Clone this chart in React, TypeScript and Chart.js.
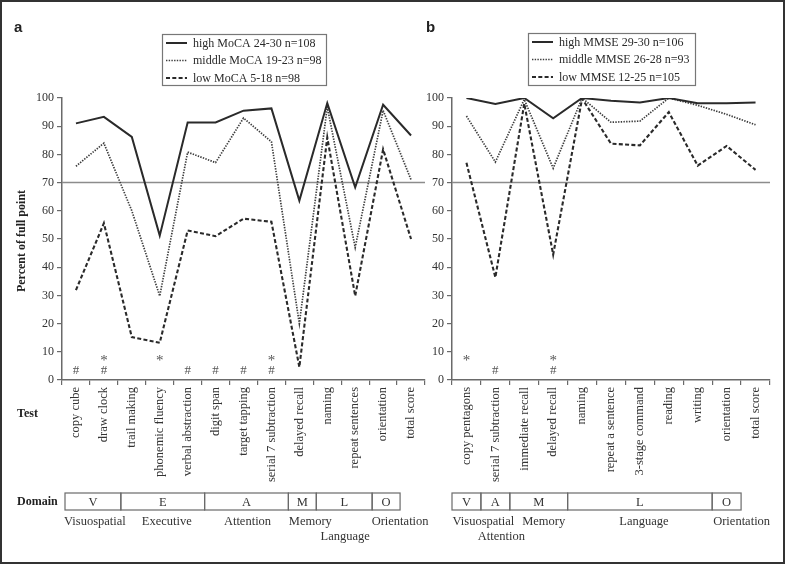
import React, { useEffect, useRef } from 'react';
import { Chart, registerables } from 'chart.js';

Chart.register(...registerables);

const SERIF = '"Liberation Serif", "Times New Roman", serif';
const SANS = '"Liberation Sans", Arial, sans-serif';

// ---------- Panel a data ----------
const TESTS_A = [
  'copy cube', 'draw clock', 'trail making', 'phonemic fluency', 'verbal abstraction',
  'digit span', 'target tapping', 'serial 7 subtraction', 'delayed recall', 'naming',
  'repeat sentences', 'orientation', 'total score',
];
const HIGH_MOCA = [91, 93.3, 86.2, 51.2, 91.3, 91.3, 95.5, 96.3, 63.6, 98.2, 68.3, 97.6, 86.7];
const MID_MOCA = [75.8, 84, 60, 29.8, 80.8, 77.1, 92.9, 84.5, 20, 96.8, 47, 95.6, 71];
const LOW_MOCA = [31.9, 55.6, 15.2, 13.2, 53, 51, 57.2, 56.1, 4.6, 86, 29.8, 81.8, 50];
const LEGEND_A = ['high MoCA 24-30 n=108', 'middle MoCA 19-23 n=98', 'low MoCA 5-18 n=98'];
const HASH_A = [0, 1, 4, 5, 6, 7];
const STAR_A = [1, 3, 7];
const DOMAIN_CODES_A = ['V', 'E', 'A', 'M', 'L', 'O'];
const DOMAIN_NAMES_A = ['Visuospatial', 'Executive', 'Attention', 'Memory', 'Language', 'Orientation'];
const DOMAIN_SPANS_A = [[0, 1], [2, 4], [5, 7], [8, 8], [9, 10], [11, 11]];
const DOMAIN_ROWS_A = [0, 0, 0, 0, 1, 0];

// ---------- Panel b data ----------
const TESTS_B = [
  'copy pentagons', 'serial 7 subtraction', 'immediate recall', 'delayed recall', 'naming',
  'repeat a sentence', '3-stage command', 'reading', 'writing', 'orientation', 'total score',
];
const HIGH_MMSE = [100, 97.9, 100, 92.8, 100, 99, 98.4, 100, 98.1, 98.1, 98.4];
const MID_MMSE = [93.6, 77.3, 99.5, 75.1, 100, 91.4, 91.8, 100, 97.4, 94.2, 90.5];
const LOW_MMSE = [77, 36.4, 98, 44.5, 99.8, 83.8, 83.2, 95, 76, 83, 74.5];
const LEGEND_B = ['high MMSE 29-30 n=106', 'middle MMSE 26-28 n=93', 'low MMSE 12-25 n=105'];
const HASH_B = [1, 3];
const STAR_B = [0, 3];
const DOMAIN_CODES_B = ['V', 'A', 'M', 'L', 'O'];
const DOMAIN_NAMES_B = ['Visuospatial', 'Attention', 'Memory', 'Language', 'Orientation'];
const DOMAIN_SPANS_B = [[0, 0], [1, 1], [2, 3], [4, 8], [9, 9]];
const DOMAIN_ROWS_B = [0, 1, 0, 0, 0];

const Y_TICKS = [0, 10, 20, 30, 40, 50, 60, 70, 80, 90, 100];
const REF_LINE = 70;

// ---------- styles / layout ----------
const SERIES_STYLES = [
  { color: '#2a2a2a', width: 2.0, dash: [] as number[] },
  { color: '#3c3c3c', width: 1.7, dash: [1.4, 1.3] },
  { color: '#2a2a2a', width: 2.1, dash: [4, 2.3] },
];

type PanelCfg = {
  letter: string;
  left: number;
  width: number;
  areaLeft: number;
  areaRight: number;
  labels: string[];
  series: number[][];
  legend: string[];
  legendBox: { x: number; y: number; w: number; h: number };
  hash: number[];
  star: number[];
  codes: string[];
  names: string[];
  spans: number[][];
  rows: number[];
  boxShift: number;
  nameNudge: number[];
  showTitles: boolean;
};

const PANEL_A: PanelCfg = {
  letter: 'a',
  left: 0,
  width: 440,
  areaLeft: 62,
  areaRight: 425,
  labels: TESTS_A,
  series: [HIGH_MOCA, MID_MOCA, LOW_MOCA],
  legend: LEGEND_A,
  legendBox: { x: 162, y: 34, w: 164, h: 51 },
  hash: HASH_A,
  star: STAR_A,
  codes: DOMAIN_CODES_A,
  names: DOMAIN_NAMES_A,
  spans: DOMAIN_SPANS_A,
  rows: DOMAIN_ROWS_A,
  boxShift: 3,
  nameNudge: [2, 4, 1, 8, 1, 14],
  showTitles: true,
};

const PANEL_B: PanelCfg = {
  letter: 'b',
  left: 420,
  width: 365,
  areaLeft: 452,
  areaRight: 770,
  labels: TESTS_B,
  series: [HIGH_MMSE, MID_MMSE, LOW_MMSE],
  legend: LEGEND_B,
  legendBox: { x: 528, y: 33, w: 167, h: 52 },
  hash: HASH_B,
  star: STAR_B,
  codes: DOMAIN_CODES_B,
  names: DOMAIN_NAMES_B,
  spans: DOMAIN_SPANS_B,
  rows: DOMAIN_ROWS_B,
  boxShift: 0,
  nameNudge: [17, 6, 5, 4, 15],
  showTitles: false,
};

const HEIGHT = 564;
const AREA_TOP = 98;
const AREA_BOTTOM = 380;
const Y_AXIS_W = 28;
const X_AXIS_H = 110;

function makeChart(canvas: HTMLCanvasElement, p: PanelCfg) {
  const off = p.left;
  const overlay = {
    id: 'overlay' + p.letter,
    beforeDatasetsDraw(chart: any) {
      const ctx = chart.ctx;
      const ys = chart.scales.y;
      const y = ys.getPixelForValue(REF_LINE);
      ctx.save();
      ctx.strokeStyle = '#8c8c8c';
      ctx.lineWidth = 1.5;
      ctx.beginPath();
      ctx.moveTo(chart.chartArea.left, y);
      ctx.lineTo(chart.chartArea.right, y);
      ctx.stroke();
      ctx.restore();
    },
    afterDraw(chart: any) {
      const ctx = chart.ctx;
      const xs = chart.scales.x;
      const ys = chart.scales.y;
      ctx.save();

      // significance markers
      ctx.fillStyle = '#555';
      ctx.textAlign = 'center';
      ctx.textBaseline = 'alphabetic';
      ctx.font = `13px ${SERIF}`;
      p.hash.forEach((i) => ctx.fillText('#', xs.getPixelForValue(i), ys.getPixelForValue(2)));
      ctx.font = `15px ${SERIF}`;
      p.star.forEach((i) => ctx.fillText('*', xs.getPixelForValue(i), ys.getPixelForValue(5.2)));

      // legend box
      const lb = p.legendBox;
      const bx = lb.x - off;
      ctx.strokeStyle = '#777';
      ctx.lineWidth = 1.2;
      ctx.strokeRect(bx + 0.5, lb.y + 0.5, lb.w, lb.h);
      ctx.font = `12px ${SERIF}`;
      ctx.textAlign = 'left';
      ctx.textBaseline = 'middle';
      chart.data.datasets.forEach((ds: any, k: number) => {
        const yy = lb.y + 9 + k * 17.5;
        ctx.save();
        ctx.strokeStyle = ds.borderColor;
        ctx.lineWidth = ds.borderWidth;
        ctx.setLineDash(ds.borderDash || []);
        ctx.beginPath();
        ctx.moveTo(bx + 4, yy);
        ctx.lineTo(bx + 25, yy);
        ctx.stroke();
        ctx.restore();
        ctx.fillStyle = '#2a2a2a';
        ctx.fillText(ds.label, bx + 31, yy + 0.5);
      });

      // domain boxes
      const step = xs.getPixelForValue(1) - xs.getPixelForValue(0);
      const boxTop = 493;
      const boxH = 17;
      ctx.strokeStyle = '#6a6a6a';
      ctx.lineWidth = 1.2;
      p.spans.forEach((s, k) => {
        const x0 = xs.getPixelForValue(s[0]) - step / 2 + p.boxShift;
        const x1 = xs.getPixelForValue(s[1]) + step / 2 + p.boxShift;
        ctx.strokeRect(x0, boxTop, x1 - x0, boxH);
        ctx.fillStyle = '#333';
        ctx.font = `12.5px ${SERIF}`;
        ctx.textAlign = 'center';
        ctx.textBaseline = 'middle';
        ctx.fillText(p.codes[k], (x0 + x1) / 2, boxTop + boxH / 2 + 1);
        const ny = p.rows[k] === 0 ? 522 : 537;
        ctx.fillText(p.names[k], (x0 + x1) / 2 + p.nameNudge[k], ny);
      });

      // panel letter
      ctx.fillStyle = '#222';
      ctx.font = `bold 15px ${SANS}`;
      ctx.textAlign = 'left';
      ctx.textBaseline = 'alphabetic';
      ctx.fillText(p.letter, (p.letter === 'a' ? 14 : 426) - off, 32);

      if (p.showTitles) {
        ctx.fillStyle = '#222';
        ctx.font = `bold 12px ${SERIF}`;
        ctx.textAlign = 'left';
        ctx.textBaseline = 'middle';
        ctx.fillText('Test', 17 - off, 414);
        ctx.fillText('Domain', 17 - off, 502);
        ctx.save();
        ctx.translate(22 - off, 241);
        ctx.rotate(-Math.PI / 2);
        ctx.textAlign = 'center';
        ctx.fillText('Percent of full point', 0, 0);
        ctx.restore();
      }
      ctx.restore();
    },
  };

  const localLeft = p.areaLeft - off;
  const localRight = p.areaRight - off;

  return new Chart(canvas, {
    type: 'line',
    data: {
      labels: p.labels,
      datasets: p.series.map((vals, k) => ({
        label: p.legend[k],
        data: vals,
        borderColor: SERIES_STYLES[k].color,
        borderWidth: SERIES_STYLES[k].width,
        borderDash: SERIES_STYLES[k].dash,
        pointRadius: 0,
        tension: 0,
        fill: false,
      })),
    },
    options: {
      animation: false,
      responsive: false,
      devicePixelRatio: 1,
      layout: {
        padding: {
          left: localLeft - Y_AXIS_W,
          right: p.width - localRight,
          top: AREA_TOP,
          bottom: HEIGHT - AREA_BOTTOM - X_AXIS_H,
        },
      },
      plugins: {
        legend: { display: false },
        tooltip: { enabled: false },
      },
      scales: {
        x: {
          type: 'category',
          offset: true,
          grid: { offset: true, drawOnChartArea: false, tickLength: 5, color: '#6a6a6a', lineWidth: 1.2 },
          border: { color: '#6a6a6a', width: 1.5 },
          ticks: {
            autoSkip: false,
            minRotation: 90,
            maxRotation: 90,
            padding: 2,
            color: '#333',
            font: { family: SERIF, size: 12.5 },
          },
          afterFit: (s: any) => {
            s.height = X_AXIS_H;
          },
        },
        y: {
          min: 0,
          max: 100,
          afterBuildTicks: (s: any) => {
            s.ticks = Y_TICKS.map((v) => ({ value: v }));
          },
          grid: { drawOnChartArea: false, tickLength: 5, color: '#6a6a6a', lineWidth: 1.2 },
          border: { color: '#6a6a6a', width: 1.5 },
          ticks: {
            padding: 3,
            color: '#333',
            font: { family: SERIF, size: 12 },
          },
          afterFit: (s: any) => {
            s.width = Y_AXIS_W;
          },
        },
      },
    },
    plugins: [overlay],
  } as any);
}

function Panel({ cfg }: { cfg: PanelCfg }) {
  const ref = useRef<HTMLCanvasElement | null>(null);
  useEffect(() => {
    if (!ref.current) return;
    const chart = makeChart(ref.current, cfg);
    return () => chart.destroy();
  }, [cfg]);
  return (
    <canvas
      ref={ref}
      width={cfg.width}
      height={HEIGHT}
      style={{ position: 'absolute', left: cfg.left, top: 0, width: cfg.width, height: HEIGHT }}
    />
  );
}

export default function App() {
  return (
    <div
      style={{
        position: 'fixed',
        left: 0,
        top: 0,
        width: 785,
        height: 564,
        background: '#fff',
        overflow: 'hidden',
      }}
    >
      <Panel cfg={PANEL_A} />
      <Panel cfg={PANEL_B} />
      <div
        style={{
          position: 'absolute',
          left: 0,
          top: 0,
          width: 785,
          height: 564,
          boxSizing: 'border-box',
          border: '2px solid #333',
          pointerEvents: 'none',
        }}
      />
    </div>
  );
}
